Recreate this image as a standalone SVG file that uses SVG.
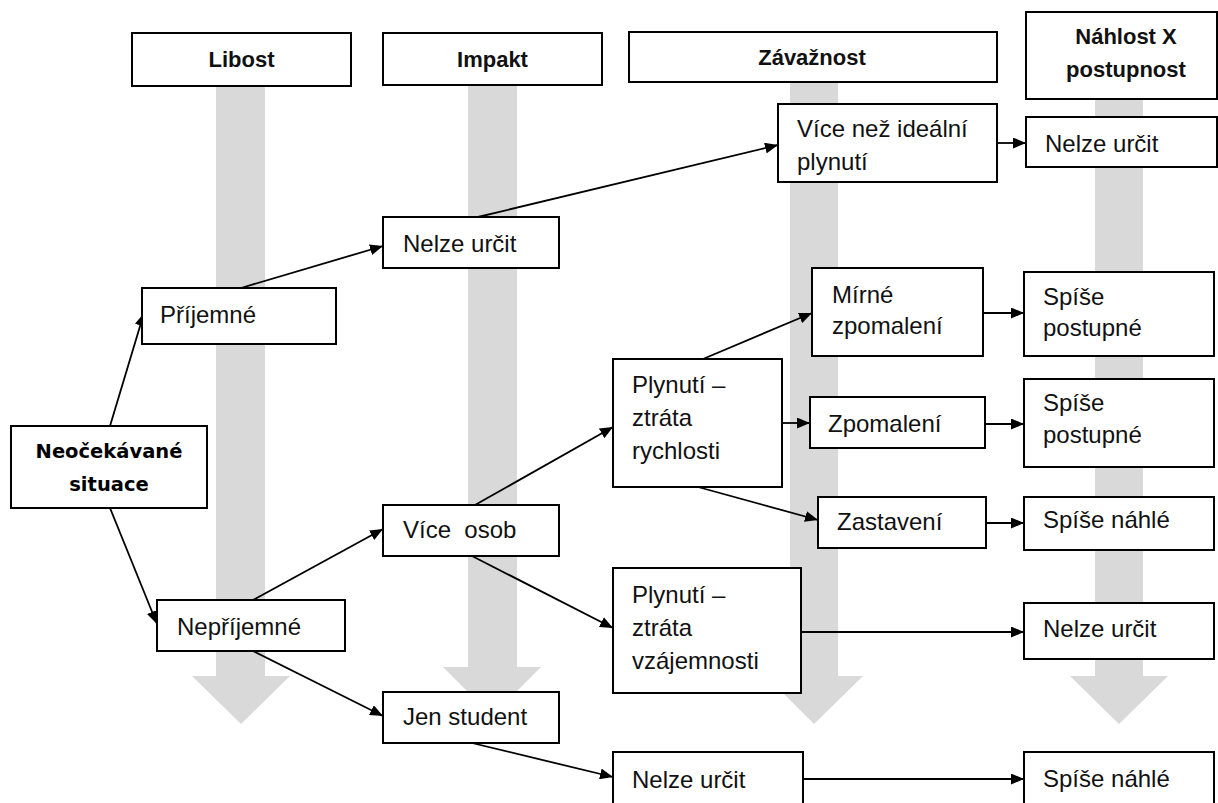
<svg xmlns="http://www.w3.org/2000/svg" width="1218" height="803" viewBox="0 0 1218 803">
<style>
.bg{fill:#ffffff}
.col{fill:#d9d9d9}
.box{fill:#ffffff;stroke:#000;stroke-width:2}
.t{font-family:"Liberation Sans",Arial,sans-serif;font-size:24px;fill:#111}
.h{font-family:"Liberation Sans",Arial,sans-serif;font-size:22px;font-weight:bold;fill:#111;text-anchor:middle}
.r{font-family:"DejaVu Sans",Verdana,sans-serif;font-size:19.5px;font-weight:bold;fill:#000;text-anchor:middle}
.c{fill:none;stroke:#000;stroke-width:1.8;marker-end:url(#ah)}
</style>
<defs>
<marker id="ah" markerUnits="userSpaceOnUse" markerWidth="13" markerHeight="11" refX="13" refY="5.5" orient="auto">
<path d="M0,0 L13,5.5 L0,11 z" fill="#000"/>
</marker>
</defs>
<rect class="bg" x="0" y="0" width="1218" height="803"/>
<g id="columns">
<polygon class="col" points="216,86 265,86 265,676 290,676 241,724 192,676 216,676"/>
<polygon class="col" points="468,85 517,85 517,667 541,667 492,716 443,667 468,667"/>
<polygon class="col" points="790,82 838,82 838,676 863,676 814,724 766,676 790,676"/>
<polygon class="col" points="1095,99 1143,99 1143,676 1168,676 1119,724 1070,676 1095,676"/>
</g>
<g id="connectors">
<line class="c" x1="110" y1="426" x2="144" y2="313"/>
<line class="c" x1="110" y1="508" x2="157" y2="624"/>
<line class="c" x1="241" y1="288" x2="383" y2="246"/>
<line class="c" x1="478" y1="217" x2="778" y2="145"/>
<line class="c" x1="997" y1="143" x2="1026" y2="143"/>
<line class="c" x1="253" y1="600" x2="383" y2="529"/>
<line class="c" x1="253" y1="651" x2="383" y2="716"/>
<line class="c" x1="475" y1="505" x2="613" y2="427"/>
<line class="c" x1="472" y1="556" x2="613" y2="628"/>
<line class="c" x1="472" y1="743" x2="613" y2="777"/>
<line class="c" x1="703" y1="359" x2="812" y2="313"/>
<line class="c" x1="782" y1="423" x2="810" y2="423"/>
<line class="c" x1="698" y1="487" x2="818" y2="520"/>
<line class="c" x1="983" y1="313" x2="1024" y2="313"/>
<line class="c" x1="985" y1="424" x2="1024" y2="424"/>
<line class="c" x1="986" y1="523" x2="1024" y2="523"/>
<line class="c" x1="801" y1="632" x2="1024" y2="632"/>
<line class="c" x1="803" y1="779" x2="1024" y2="779"/>
</g>
<g id="h_libost"><rect class="box" x="132" y="33" width="219" height="53"/><text class="h" x="241.5" y="67">Libost</text></g>
<g id="h_impakt"><rect class="box" x="383" y="33" width="219" height="52"/><text class="h" x="492.5" y="67">Impakt</text></g>
<g id="h_zavaznost"><rect class="box" x="629" y="32" width="368" height="50"/><text class="h" x="812" y="65">Závažnost</text></g>
<g id="h_nahlost"><rect class="box" x="1026" y="12" width="191" height="87"/><text class="h" x="1126" y="44">Náhlost X</text><text class="h" x="1126" y="77">postupnost</text></g>
<g id="n_root"><rect class="box" x="11" y="426" width="196" height="82"/><text class="r" x="109" y="458">Neočekávané</text><text class="r" x="109" y="491">situace</text></g>
<g id="n_prijemne"><rect class="box" x="142" y="288" width="194" height="56"/><text class="t" x="160" y="323">Příjemné</text></g>
<g id="n_neprijemne"><rect class="box" x="157" y="600" width="188" height="51"/><text class="t" x="177" y="635">Nepříjemné</text></g>
<g id="n_imp_nelze"><rect class="box" x="383" y="217" width="176" height="51"/><text class="t" x="403" y="252">Nelze určit</text></g>
<g id="n_vice_osob"><rect class="box" x="383" y="505" width="176" height="51"/><text class="t" x="403" y="538" xml:space="preserve">Více  osob</text></g>
<g id="n_jen_student"><rect class="box" x="383" y="692" width="176" height="51"/><text class="t" x="403" y="725">Jen student</text></g>
<g id="n_vice_nez"><rect class="box" x="778" y="104" width="219" height="78"/><text class="t" x="797" y="137">Více než ideální</text><text class="t" x="797" y="170">plynutí</text></g>
<g id="n_plyn_rych"><rect class="box" x="613" y="359" width="169" height="128"/><text class="t" x="632" y="393">Plynutí –</text><text class="t" x="632" y="426">ztráta</text><text class="t" x="632" y="459">rychlosti</text></g>
<g id="n_plyn_vzaj"><rect class="box" x="613" y="568" width="188" height="125"/><text class="t" x="632" y="603">Plynutí –</text><text class="t" x="632" y="636">ztráta</text><text class="t" x="632" y="669">vzájemnosti</text></g>
<g id="n_zav_nelze"><rect class="box" x="613" y="752" width="190" height="60"/><text class="t" x="632" y="788">Nelze určit</text></g>
<g id="n_mirne"><rect class="box" x="812" y="268" width="171" height="88"/><text class="t" x="832" y="303">Mírné</text><text class="t" x="832" y="334">zpomalení</text></g>
<g id="n_zpomaleni"><rect class="box" x="810" y="397" width="175" height="51"/><text class="t" x="828" y="432">Zpomalení</text></g>
<g id="n_zastaveni"><rect class="box" x="818" y="497" width="168" height="51"/><text class="t" x="837" y="530">Zastavení</text></g>
<g id="n_nah_nelze1"><rect class="box" x="1026" y="117" width="191" height="50"/><text class="t" x="1045" y="152">Nelze určit</text></g>
<g id="n_postupne1"><rect class="box" x="1024" y="272" width="190" height="84"/><text class="t" x="1043" y="305">Spíše</text><text class="t" x="1043" y="336">postupné</text></g>
<g id="n_postupne2"><rect class="box" x="1024" y="379" width="190" height="88"/><text class="t" x="1043" y="411">Spíše</text><text class="t" x="1043" y="443">postupné</text></g>
<g id="n_nahle1"><rect class="box" x="1024" y="497" width="190" height="53"/><text class="t" x="1043" y="528">Spíše náhlé</text></g>
<g id="n_nah_nelze2"><rect class="box" x="1024" y="603" width="190" height="56"/><text class="t" x="1043" y="637">Nelze určit</text></g>
<g id="n_nahle2"><rect class="box" x="1024" y="752" width="190" height="60"/><text class="t" x="1043" y="787">Spíše náhlé</text></g>
</svg>
